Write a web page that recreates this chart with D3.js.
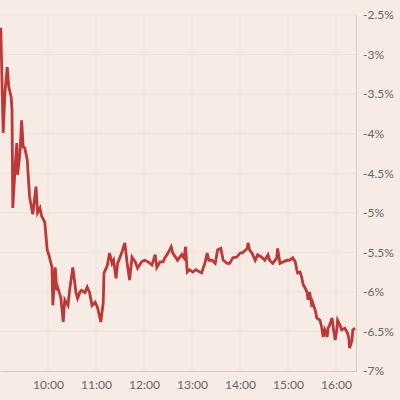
<!DOCTYPE html>
<html>
<head>
<meta charset="utf-8">
<script src="https://cdn.jsdelivr.net/npm/d3@7"></script>
<style>
  body { margin: 0; background: #f6ebe5; }
  svg { display: block; }
  .tick text { font-family: Lato, "Open Sans", sans-serif; font-size: 12px; fill: #666; }
</style>
</head>
<body>
<svg id="chart" width="400" height="400"></svg>
<script>
// intraday move, percent
const times = [
  "9:00","9:01","9:04","9:06","9:09","9:11","9:14","9:15","9:16","9:19",
  "9:21","9:22","9:25","9:27","9:29","9:31","9:34","9:37","9:41","9:45",
  "9:47","9:50","9:52","9:56","9:59","10:01","10:05","10:06","10:09","10:11",
  "10:12","10:16","10:19","10:21","10:25","10:27","10:31","10:35","10:37","10:40",
  "10:42","10:46","10:49","10:52","10:55","10:59","11:02","11:06","11:09","11:10",
  "11:14","11:17","11:20","11:22","11:25","11:27","11:32","11:36","11:39","11:42",
  "11:45","11:49","11:52","11:57","12:01","12:05","12:10","12:14","12:16","12:20",
  "12:24","12:26","12:30","12:34","12:36","12:40","12:42","12:47","12:50","12:52",
  "12:54","12:57","13:01","13:05","13:10","13:12","13:16","13:19","13:21","13:25",
  "13:29","13:32","13:36","13:39","13:44","13:47","13:51","13:56","14:00","14:04",
  "14:09","14:10","14:12","14:15","14:19","14:22","14:27","14:31","14:35","14:37",
  "14:41","14:46","14:47","14:50","14:54","14:59","15:02","15:06","15:09","15:11",
  "15:12","15:15","15:17","15:19","15:21","15:24","15:25","15:27","15:30","15:31",
  "15:34","15:36","15:40","15:42","15:44","15:46","15:49","15:50","15:52","15:55",
  "15:57","15:59","16:01","16:02","16:05","16:07","16:11","16:14","16:16","16:17",
  "16:20","16:21","16:24"
];
const values = [
  -2.68,-2.68,-3.99,-3.51,-3.16,-3.41,-3.54,-3.70,-4.94,-4.40,
  -4.12,-4.52,-4.24,-3.83,-4.17,-4.18,-4.33,-4.80,-5.02,-4.67,
  -5.00,-4.94,-5.04,-5.12,-5.47,-5.53,-5.69,-6.17,-5.69,-5.98,
  -5.94,-6.07,-6.38,-6.10,-6.17,-5.98,-5.69,-6.01,-6.08,-6.00,
  -5.98,-6.01,-5.94,-6.01,-6.17,-6.13,-6.20,-6.38,-6.14,-5.76,
  -5.67,-5.51,-5.64,-5.60,-5.83,-5.64,-5.51,-5.38,-5.64,-5.85,
  -5.56,-5.62,-5.70,-5.62,-5.60,-5.62,-5.66,-5.53,-5.69,-5.62,
  -5.62,-5.57,-5.51,-5.43,-5.51,-5.57,-5.60,-5.53,-5.57,-5.43,
  -5.75,-5.72,-5.75,-5.72,-5.75,-5.76,-5.64,-5.51,-5.60,-5.60,
  -5.64,-5.47,-5.45,-5.60,-5.64,-5.64,-5.57,-5.56,-5.51,-5.50,
  -5.45,-5.38,-5.47,-5.51,-5.60,-5.53,-5.56,-5.60,-5.53,-5.60,
  -5.64,-5.57,-5.45,-5.64,-5.62,-5.60,-5.60,-5.57,-5.62,-5.72,
  -5.76,-5.75,-5.81,-5.91,-5.94,-6.01,-6.10,-6.00,-6.19,-6.14,
  -6.23,-6.33,-6.36,-6.44,-6.57,-6.48,-6.57,-6.46,-6.42,-6.33,
  -6.48,-6.61,-6.48,-6.36,-6.42,-6.48,-6.46,-6.51,-6.58,-6.71,
  -6.61,-6.48,-6.46
];
const yTicks = [-2.5, -3, -3.5, -4, -4.5, -5, -5.5, -6, -6.5, -7];
const xTickLabels = ["10:00", "11:00", "12:00", "13:00", "14:00", "15:00", "16:00"];

const parseTime = d3.timeParse("%H:%M");
const data = times.map((t, i) => ({ t: parseTime(t), v: values[i] }));

const svg = d3.select('#chart');
const plotW = 356;
const plotTop = 15;
const plotBottom = 371;

const xScale = d3.scaleTime()
    .domain([parseTime("9:00"), parseTime("16:25")])
    .range([0, plotW]);
const yScale = d3.scaleLinear()
    .domain([-7, -2.5])
    .range([plotBottom, plotTop]);

svg.append('rect')
    .attr('width', 400).attr('height', 400)
    .attr('fill', '#f6ebe5');

// grid
const grid = svg.append('g');
grid.selectAll('line.h')
    .data(yTicks.slice(0, -1))
    .enter().append('line')
    .attr('x1', 0).attr('x2', plotW)
    .attr('y1', d => yScale(d)).attr('y2', d => yScale(d))
    .attr('stroke', '#efe1d6').attr('stroke-width', 1);
grid.selectAll('line.v')
    .data(xTickLabels)
    .enter().append('line')
    .attr('x1', d => xScale(parseTime(d))).attr('x2', d => xScale(parseTime(d)))
    .attr('y1', plotTop).attr('y2', plotBottom)
    .attr('stroke', '#efe1d6').attr('stroke-width', 1);

// axes
const yAxis = svg.append('g')
    .attr('transform', `translate(${plotW},0)`)
    .call(d3.axisRight(yScale)
        .tickValues(yTicks)
        .tickSize(0)
        .tickPadding(7)
        .tickFormat(d => d + '%'));
yAxis.select('.domain').attr('stroke', '#d7cdc6');

const xAxis = svg.append('g')
    .attr('transform', `translate(0,${plotBottom})`)
    .call(d3.axisBottom(xScale)
        .tickValues(xTickLabels.map(parseTime))
        .tickSize(0)
        .tickPadding(9)
        .tickFormat(d3.timeFormat('%H:%M')));
xAxis.select('.domain').attr('stroke', '#d7cdc6');

const line = d3.line()
    .x(d => xScale(d.t))
    .y(d => yScale(d.v));

svg.append('path')
    .datum(data)
    .style('fill', 'none')
    .style('stroke', '#be3838')
    .style('stroke-width', '2.8')
    .style('stroke-linejoin', 'miter')
    .attr('d', line);
</script>
</body>
</html>
